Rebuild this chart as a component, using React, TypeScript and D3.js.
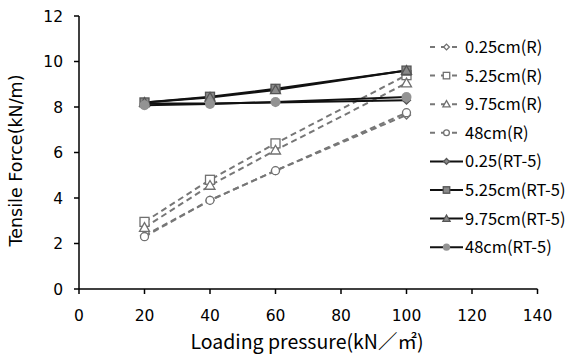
import React from "react";
import * as d3 from "d3";

const xValues = [20, 40, 60, 100];
const seriesNames = [
  "0.25cm(R)", "5.25cm(R)", "9.75cm(R)", "48cm(R)",
  "0.25(RT-5)", "5.25cm(RT-5)", "9.75cm(RT-5)", "48cm(RT-5)",
];
const s025R = [2.35, 3.9, 5.2, 7.65];
const s525R = [2.95, 4.8, 6.4, 9.4];
const s975R = [2.7, 4.55, 6.1, 9.05];
const s48R = [2.3, 3.9, 5.2, 7.75];
const s025RT = [8.15, 8.15, 8.2, 8.3];
const s525RT = [8.2, 8.45, 8.8, 9.6];
const s975RT = [8.2, 8.42, 8.75, 9.6];
const s48RT = [8.08, 8.13, 8.22, 8.44];
const seriesValues = [s025R, s525R, s975R, s48R, s025RT, s525RT, s975RT, s48RT];
const markerKinds = ["diamond", "square", "triangle", "circle", "diamond", "square", "triangle", "circle"];
const xTicks = [0, 20, 40, 60, 80, 100, 120, 140];
const yTicks = [0, 2, 4, 6, 8, 10, 12];

const W = 571, H = 358;
const x = d3.scaleLinear().domain([0, 140]).range([79, 537.5]);
const y = d3.scaleLinear().domain([0, 12]).range([289, 16]);
const tickFont = "'DejaVu Sans', Arial, sans-serif";
const legFont = "'Noto Sans CJK JP', 'DejaVu Sans', sans-serif";

function Marker({ kind, cx, cy, dashed, s = 1 }: { kind: string; cx: number; cy: number; dashed: boolean; s?: number }) {
  const fill = dashed ? "white" : "#8a8a8a";
  const stroke = dashed ? "#707070" : "#555";
  const sw = 1.3;
  if (kind === "diamond") {
    const r = 4 * s;
    return <path d={`M${cx},${cy - r}L${cx + r},${cy}L${cx},${cy + r}L${cx - r},${cy}Z`} fill={fill} stroke={stroke} strokeWidth={sw} />;
  }
  if (kind === "square") {
    const r = 4.5 * s;
    return <rect x={cx - r} y={cy - r} width={2 * r} height={2 * r} fill={fill} stroke={stroke} strokeWidth={sw} />;
  }
  if (kind === "triangle") {
    const r = 5 * s;
    return <path d={`M${cx},${cy - r}L${cx + r},${cy + r * 0.75}L${cx - r},${cy + r * 0.75}Z`} fill={fill} stroke={stroke} strokeWidth={sw} />;
  }
  return <circle cx={cx} cy={cy} r={(dashed ? 4 : 5) * s} fill={dashed ? "white" : "#939393"} stroke={dashed ? stroke : "none"} strokeWidth={sw} />;
}

export default function App() {
  const line = d3.line<number>().x((_, i) => x(xValues[i])).y((v) => y(v));
  const order = [0, 1, 2, 3, 4, 5, 6, 7];
  const legX = 430, legY0 = 47, legStep = 28.6;
  return (
    <svg width={W} height={H} style={{ position: "absolute", left: 0, top: 0, background: "white" }}>
      {order.map((si) => {
        const dashed = si < 4;
        return (
          <path key={"l" + si} d={line(seriesValues[si]) || ""} fill="none"
            stroke={dashed ? "#777" : "#111"} strokeWidth={2}
            strokeDasharray={dashed ? "6,4" : undefined} />
        );
      })}
      {order.map((si) =>
        seriesValues[si].map((v, i) => (
          <Marker key={"m" + si + "-" + i} kind={markerKinds[si]} cx={x(xValues[i])} cy={y(v)} dashed={si < 4} />
        ))
      )}
      <line x1={x(0)} x2={x(0)} y1={y(12)} y2={y(0)} stroke="#000" strokeWidth={1.5} />
      <line x1={x(0)} x2={x(140)} y1={y(0)} y2={y(0)} stroke="#000" strokeWidth={1.5} />
      {yTicks.map((t) => (
        <g key={"yt" + t}>
          <line x1={x(0) - 5} x2={x(0)} y1={y(t)} y2={y(t)} stroke="#000" strokeWidth={1.5} />
          <text x={x(0) - 16} y={y(t)} dy="0.36em" textAnchor="end" fontSize={15.5} fontFamily={tickFont}>{t}</text>
        </g>
      ))}
      {xTicks.map((t) => (
        <g key={"xt" + t}>
          <line x1={x(t)} x2={x(t)} y1={y(0)} y2={y(0) + 5} stroke="#000" strokeWidth={1.5} />
          <text x={x(t)} y={y(0) + 32} textAnchor="middle" fontSize={15.5} fontFamily={tickFont}>{t}</text>
        </g>
      ))}
      <text transform={`translate(22,${(y(0) + y(12)) / 2 + 8}) rotate(-90)`} textAnchor="middle" fontSize={17.5} fontFamily={tickFont}>Tensile Force(kN/m)</text>
      <text x={307} y={349} textAnchor="middle" fontSize={19.5} fontFamily={legFont}>Loading pressure(kN／㎡)</text>
      {seriesNames.map((name, si) => {
        const dashed = si < 4;
        const ly = legY0 + si * legStep;
        return (
          <g key={"lg" + si}>
            <line x1={legX} x2={legX + 33} y1={ly} y2={ly} stroke={dashed ? "#777" : "#111"} strokeWidth={2}
              strokeDasharray={dashed ? "5,6" : undefined} />
            <Marker kind={markerKinds[si]} cx={legX + 16.5} cy={ly} dashed={dashed} s={0.72} />
            <text x={legX + 35} y={ly} dy="0.36em" fontSize={16.5} fontFamily={legFont}>{name}</text>
          </g>
        );
      })}
    </svg>
  );
}
